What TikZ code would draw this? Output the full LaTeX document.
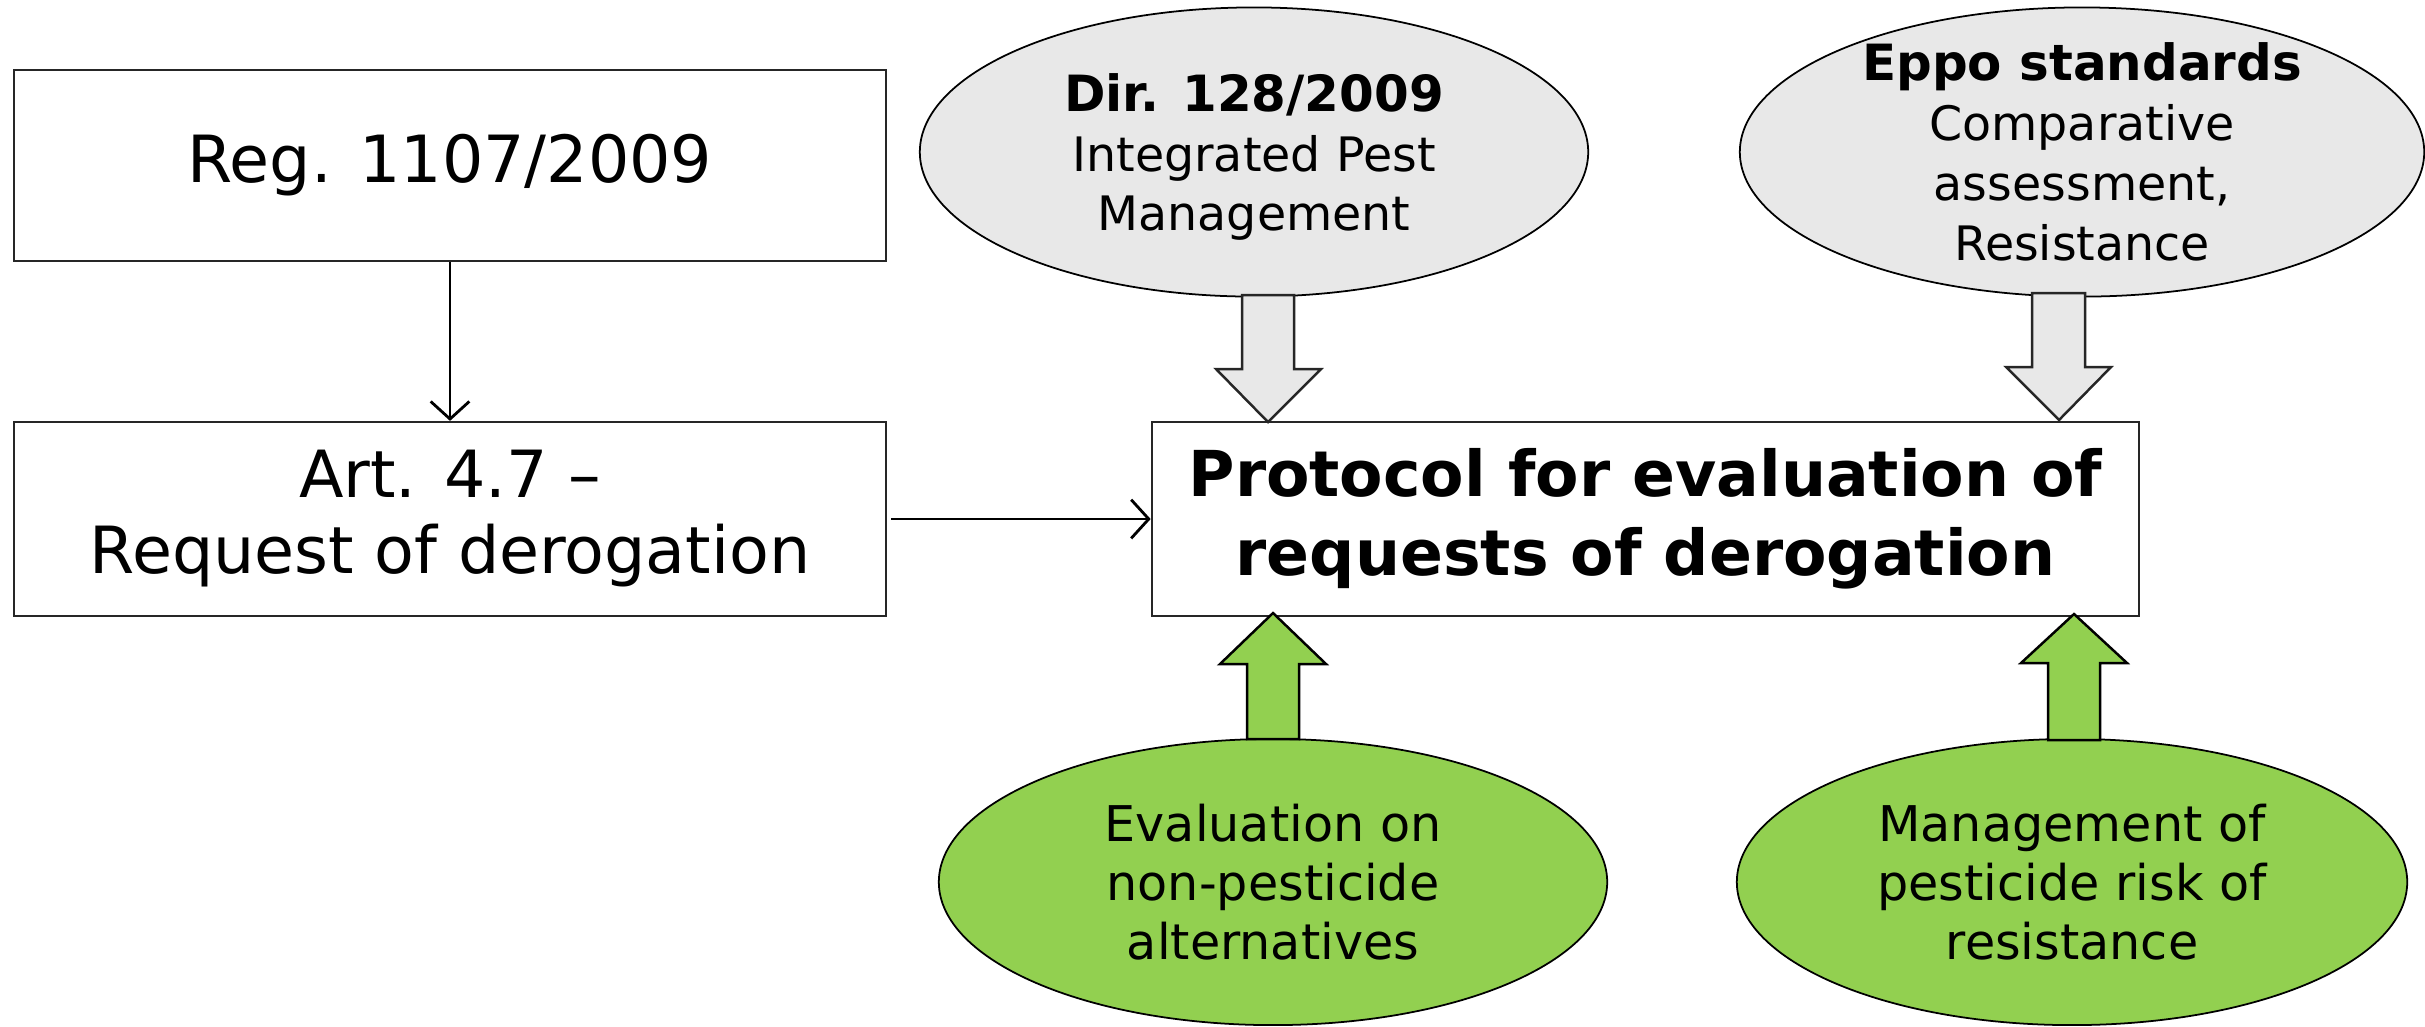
\documentclass[tikz,border=0pt]{standalone}
\usepackage{fontspec}
\setmainfont{DejaVu Sans}
\usetikzlibrary{shapes.geometric,arrows.meta}
\definecolor{ggray}{HTML}{E8E8E8}
\definecolor{ggreen}{HTML}{92D050}
\newcommand{\bhead}[1]{{\fontsize{14.2}{17}\selectfont\bfseries #1}}
\tikzset{
  box/.style={draw=black!85, line width=0.6pt, rectangle, inner sep=0pt, align=center},
  ell/.style={draw=black, line width=0.5pt, ellipse, inner sep=0pt},
  grayell/.style={ell, fill=ggray},
  greenell/.style={ell, fill=ggreen},
  blockgray/.style={draw=black!85, line width=0.7pt, fill=ggray, line join=miter},
  blockgreen/.style={draw=black, line width=0.7pt, fill=ggreen, line join=miter},
  conn/.style={line width=0.8pt, -{Straight Barb[length=5pt,width=11pt,line width=0.8pt]}},
  bigtxt/.style={font=\fontsize{18.5}{21.6}\selectfont},
  protxt/.style={font=\fontsize{18}{22.5}\selectfont\bfseries},
  elltxt/.style={align=center, font=\fontsize{13.5}{17}\selectfont},
  greentxt/.style={align=center, font=\fontsize{14}{16.8}\selectfont},
}
\begin{document}
\begin{tikzpicture}[x=0.01cm,y=-0.01cm]
\useasboundingbox (0,0) rectangle (2425,1026);
% rectangles
\node[box, bigtxt, minimum width=8.72cm, minimum height=1.91cm] (reg) at (450,165.5) {Reg. 1107/2009};
\node[box, bigtxt, minimum width=8.72cm, minimum height=1.94cm] (art) at (450,519) {Art. 4.7 –\\Request of derogation};
\node[box, protxt, minimum width=9.87cm, minimum height=1.94cm] (prot) at (1645.5,519) {Protocol for evaluation of\\requests of derogation};
% ellipses
\node[grayell, minimum width=6.68cm, minimum height=2.89cm,
  label={[elltxt, yshift=-0.05cm]center:{\bhead{Dir. 128/2009}\\Integrated Pest\\Management}}] (dir) at (1254,152) {};
\node[grayell, minimum width=6.84cm, minimum height=2.89cm,
  label={[elltxt]center:{\bhead{Eppo standards}\\Comparative\\assessment,\\Resistance}}] (eppo) at (2082,152) {};
\node[greenell, minimum width=6.68cm, minimum height=2.86cm,
  label={[greentxt]center:{Evaluation on\\non-pesticide\\alternatives}}] (eval) at (1273,882) {};
\node[greenell, minimum width=6.70cm, minimum height=2.86cm,
  label={[greentxt]center:{Management of\\pesticide risk of\\resistance}}] (mgmt) at (2072,882) {};
% line connectors
\draw[conn] (reg.south) -- (art.north);
\draw[conn] ([xshift=0.04cm]art.east) -- (prot.west);
% block arrows
\draw[blockgray] (1242,295) -- (1242,369) -- (1216,369) -- (1268,422) -- (1321,369) -- (1294,369) -- (1294,295) -- cycle;
\draw[blockgray] (2032,293) -- (2032,367) -- (2006,367) -- (2059,420) -- (2111,367) -- (2085,367) -- (2085,293) -- cycle;
\draw[blockgreen] (1247,739) -- (1247,664) -- (1220,664) -- (1273,613) -- (1326,664) -- (1299,664) -- (1299,739) -- cycle;
\draw[blockgreen] (2048,740) -- (2048,663) -- (2021,663) -- (2074,614) -- (2127,663) -- (2100,663) -- (2100,740) -- cycle;
\end{tikzpicture}
\end{document}
